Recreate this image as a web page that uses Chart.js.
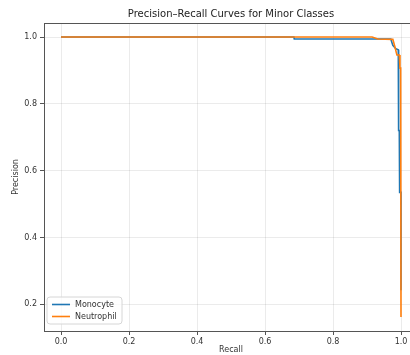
<!DOCTYPE html>
<html>
<head>
<meta charset="utf-8">
<script src="https://cdn.jsdelivr.net/npm/chart.js@4/dist/chart.umd.min.js"></script>
<style>
  html, body { margin: 0; padding: 0; background: #fff; overflow: hidden; }
  #wrap { width: 410px; height: 355px; overflow: hidden; }
  canvas { display: block; }
</style>
</head>
<body>
<div id="wrap"><canvas id="pr" width="420" height="355"></canvas></div>
<script>
// Precision–recall curve points per class (recall, precision)
const monocyteRecall    = [0.000, 0.685, 0.686, 0.970, 0.976, 0.985, 0.992, 0.993, 0.995, 0.996, 1.000, 1.000];
const monocytePrecision = [1.000, 1.000, 0.994, 0.994, 0.975, 0.965, 0.962, 0.720, 0.720, 0.535, 0.535, 0.242];

const neutrophilRecall    = [0.000, 0.915, 0.932, 0.976, 0.982, 0.988, 0.995, 0.997, 0.999, 1.000];
const neutrophilPrecision = [1.000, 1.000, 0.994, 0.993, 0.971, 0.946, 0.946, 0.907, 0.907, 0.162];

const classNames = ['Monocyte', 'Neutrophil'];
const xTickValues = [0.0, 0.2, 0.4, 0.6, 0.8, 1.0];
const yTickValues = [0.2, 0.4, 0.6, 0.8, 1.0];

const toPoints = (xs, ys) => xs.map((x, i) => ({ x: x, y: ys[i] }));

const FONT = 'DejaVu Sans';

// Legend box drawn inside the plot, lower-left corner
const innerLegend = {
  id: 'innerLegend',
  afterDatasetsDraw(chart) {
    const { ctx, chartArea } = chart;
    const x0 = chartArea.left + 3, y1 = chartArea.bottom - 7;
    const w = 75, h = 27, y0 = y1 - h, r = 3;
    ctx.save();
    ctx.beginPath();
    ctx.moveTo(x0 + r, y0);
    ctx.arcTo(x0 + w, y0, x0 + w, y0 + h, r);
    ctx.arcTo(x0 + w, y0 + h, x0, y0 + h, r);
    ctx.arcTo(x0, y0 + h, x0, y0, r);
    ctx.arcTo(x0, y0, x0 + w, y0, r);
    ctx.closePath();
    ctx.fillStyle = 'rgba(255,255,255,0.8)';
    ctx.fill();
    ctx.strokeStyle = '#d6d6d6';
    ctx.lineWidth = 1;
    ctx.stroke();
    ctx.font = '8px "' + FONT + '"';
    ctx.textBaseline = 'middle';
    chart.data.datasets.forEach((ds, i) => {
      const yy = y0 + 7.5 + i * 12;
      ctx.strokeStyle = ds.borderColor;
      ctx.lineWidth = 1.6;
      ctx.beginPath();
      ctx.moveTo(x0 + 5, yy);
      ctx.lineTo(x0 + 23, yy);
      ctx.stroke();
      ctx.fillStyle = '#333';
      ctx.fillText(ds.label, x0 + 28, yy);
    });
    ctx.restore();
  }
};

new Chart(document.getElementById('pr'), {
  type: 'scatter',
  data: {
    datasets: [
      {
        label: classNames[0],
        data: toPoints(monocyteRecall, monocytePrecision),
        showLine: true, borderColor: '#1f77b4', backgroundColor: '#1f77b4',
        borderWidth: 1.6, pointRadius: 0, tension: 0, order: 1
      },
      {
        label: classNames[1],
        data: toPoints(neutrophilRecall, neutrophilPrecision),
        showLine: true, borderColor: '#ff7f0e', backgroundColor: '#ff7f0e',
        borderWidth: 1.6, pointRadius: 0, tension: 0, order: 0
      }
    ]
  },
  options: {
    responsive: false,
    animation: false,
    devicePixelRatio: 1,
    layout: { padding: { left: 0, right: 2, top: 0, bottom: 0 } },
    plugins: {
      legend: { display: false },
      tooltip: { enabled: false },
      title: {
        display: true,
        fullSize: false,
        text: 'Precision–Recall Curves for Minor Classes',
        color: '#222',
        font: { family: FONT, size: 10, weight: 'normal', lineHeight: 1.2 },
        padding: { top: 8, bottom: 3 }
      }
    },
    scales: {
      x: {
        type: 'linear', min: -0.05, max: 1.05,
        afterBuildTicks: s => { s.ticks = xTickValues.map(v => ({ value: v })); },
        afterFit: s => { s.height = 24; },
        ticks: {
          color: '#333', padding: 2, maxRotation: 0,
          font: { family: FONT, size: 8 },
          callback: v => v.toFixed(1)
        },
        grid: { color: 'rgba(0,0,0,0.08)', tickColor: '#555', tickLength: 4, lineWidth: 1 },
        border: { color: '#555', width: 1 },
        title: {
          display: true, text: 'Recall', color: '#333',
          font: { family: FONT, size: 8, lineHeight: 1.2 },
          padding: { top: 0, bottom: 0 }
        }
      },
      y: {
        type: 'linear', min: 0.12, max: 1.042,
        afterBuildTicks: s => { s.ticks = yTickValues.map(v => ({ value: v })); },
        afterFit: s => { s.width = 44; },
        ticks: {
          color: '#333', padding: 3,
          font: { family: FONT, size: 8 },
          callback: v => v.toFixed(1)
        },
        grid: { color: 'rgba(0,0,0,0.08)', tickColor: '#555', tickLength: 4, lineWidth: 1 },
        border: { color: '#555', width: 1 },
        title: {
          display: true, text: 'Precision', color: '#333',
          font: { family: FONT, size: 8, lineHeight: 1.2 },
          padding: { top: 11, bottom: 0 }
        }
      }
    }
  },
  plugins: [innerLegend, {
    // top and right spines of the axes frame
    id: 'topSpine',
    afterDraw(chart) {
      const { ctx, chartArea } = chart;
      ctx.save();
      ctx.strokeStyle = '#555';
      ctx.lineWidth = 1;
      ctx.beginPath();
      ctx.moveTo(chartArea.left, chartArea.top + 0.5);
      ctx.lineTo(chartArea.right, chartArea.top + 0.5);
      ctx.moveTo(chartArea.right - 0.5, chartArea.top);
      ctx.lineTo(chartArea.right - 0.5, chartArea.bottom);
      ctx.stroke();
      ctx.restore();
    }
  }]
});
</script>
</body>
</html>
